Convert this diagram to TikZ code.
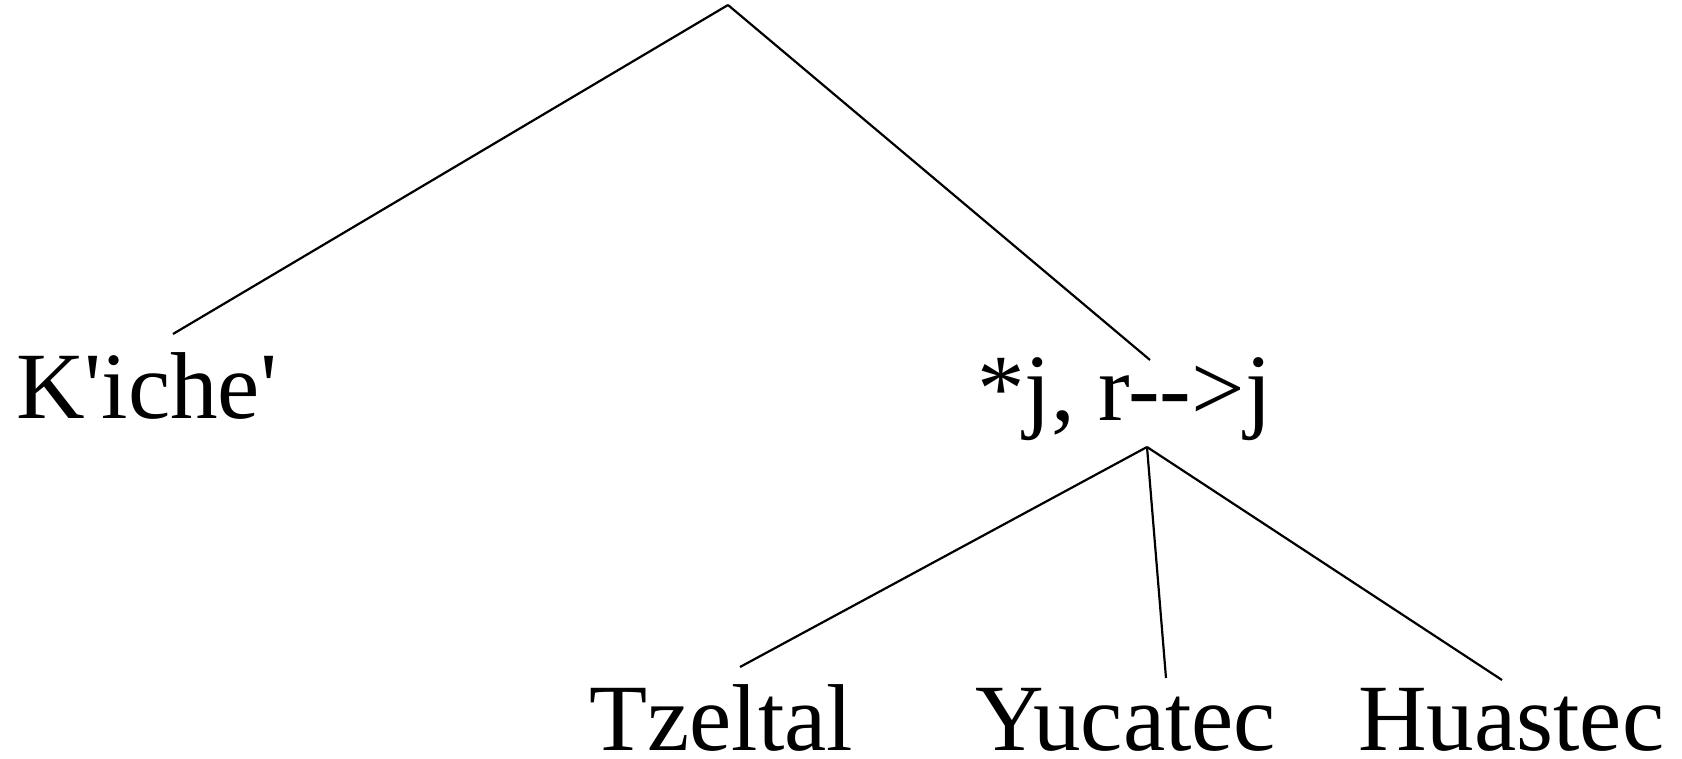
\documentclass[tikz,border=0pt]{standalone}
\usepackage{fontspec}
\newfontfamily\tf{Liberation Serif}
\begin{document}
\begin{tikzpicture}[x=1pt,y=-1pt,
  lbl/.style={anchor=base west,inner sep=0pt,font=\tf\fontsize{95}{100}\selectfont},
  edge/.style={line width=2.2pt}]
\useasboundingbox (0,0) rectangle (1682,759);
\coordinate (root) at (728,5);
\node[lbl] (kiche) at (16,418) {K'iche'};
\node[lbl] (jr) at (977,420) {*j, r-{}->j};
\node[lbl] (tz) at (589,750) {Tzeltal};
\node[lbl] (yu) at (975,750) {Yucatec};
\node[lbl] (hu) at (1358,750) {Huastec};
\coordinate (kicheT) at (173,334);
\coordinate (jrT) at (1150,360);
\coordinate (jrB) at (1147,447);
\coordinate (tzT) at (740,667);
\coordinate (yuT) at (1166,678);
\coordinate (huT) at (1502,680);
\draw[edge] (root) -- (kicheT);
\draw[edge] (root) -- (jrT);
\draw[edge] (jrB) -- (tzT);
\draw[edge] (jrB) -- (yuT);
\draw[edge] (jrB) -- (huT);
\end{tikzpicture}
\end{document}
